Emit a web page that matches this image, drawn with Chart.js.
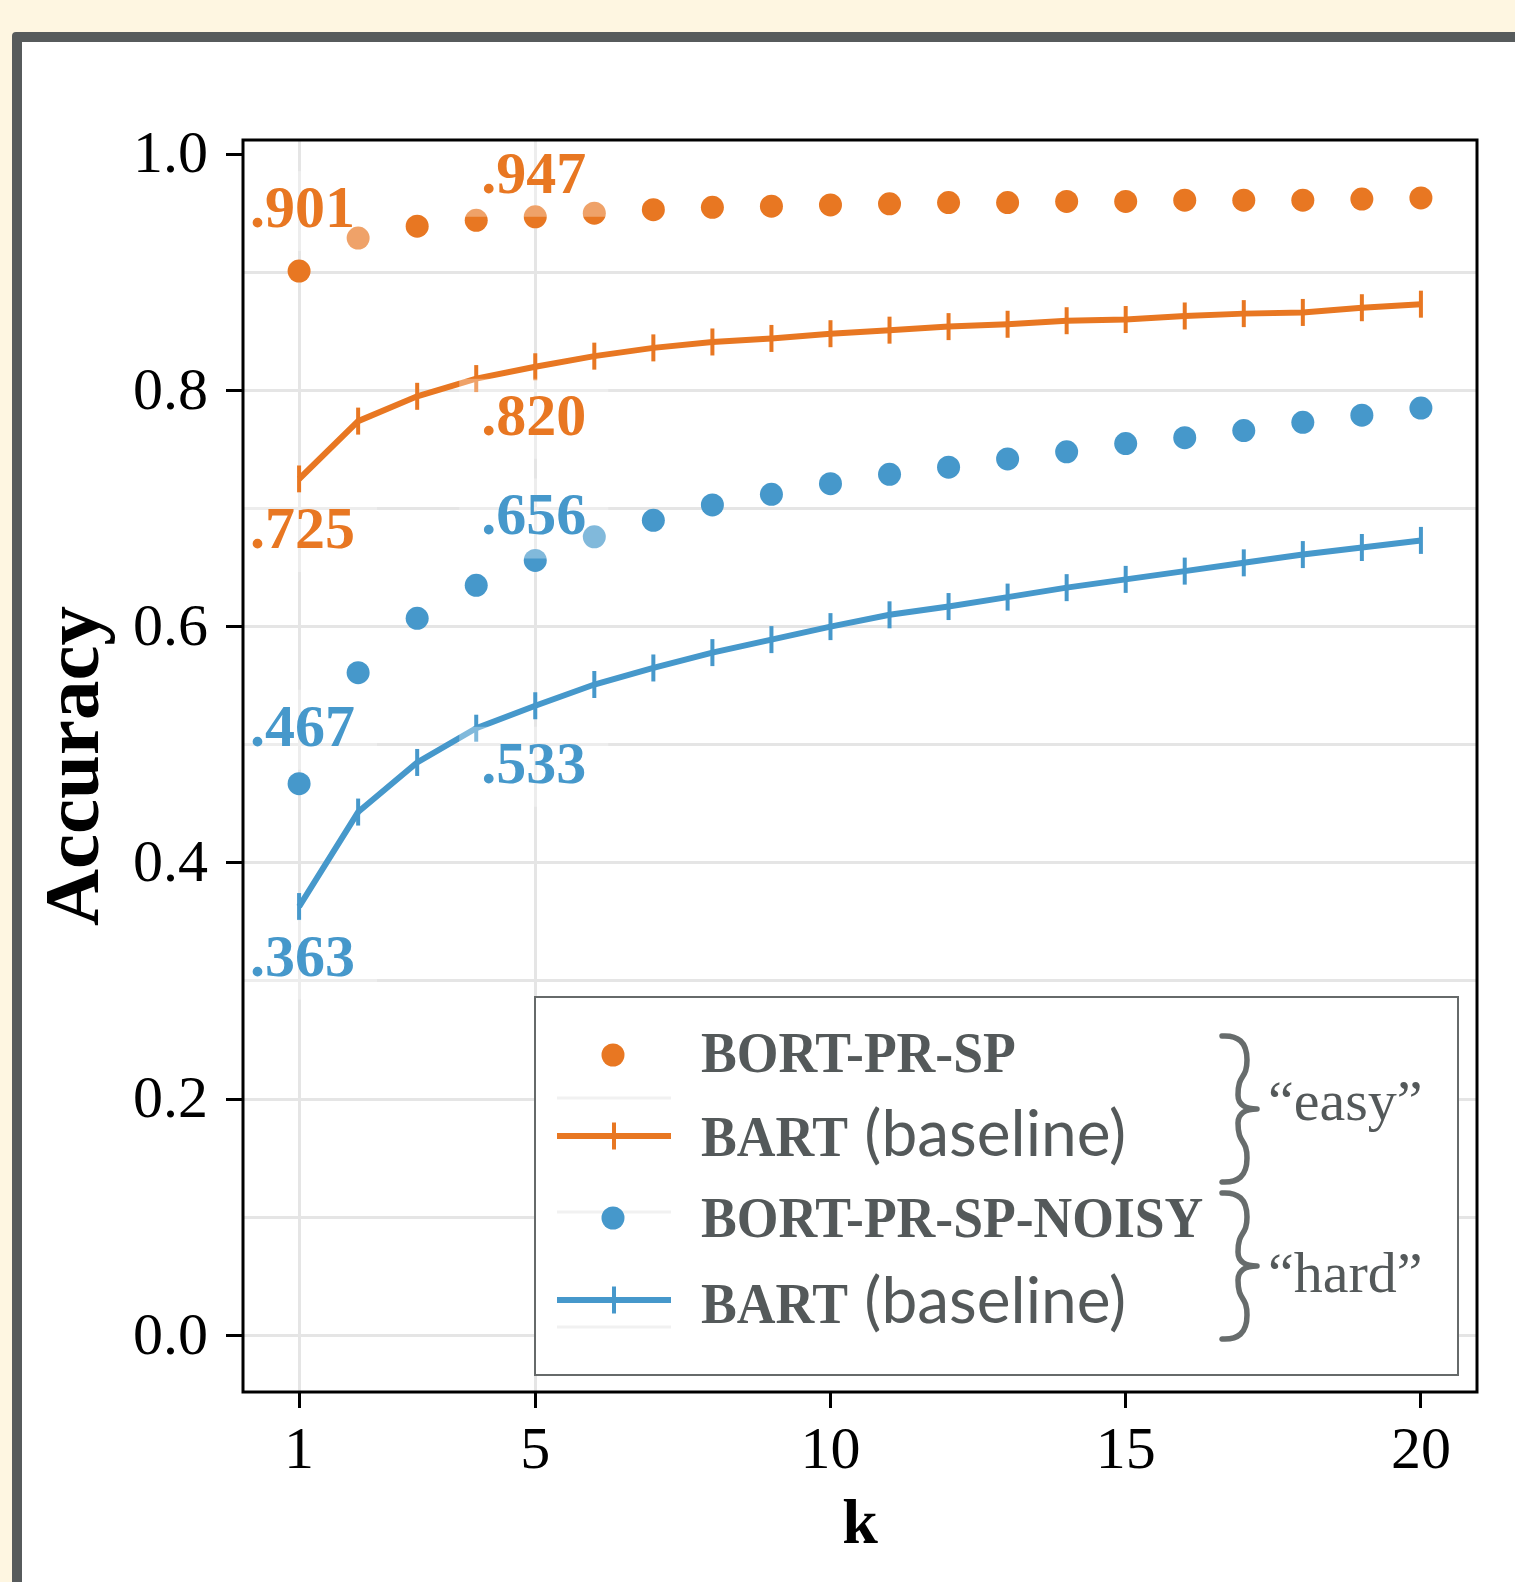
<!DOCTYPE html>
<html>
<head>
<meta charset="utf-8">
<script src="https://cdn.jsdelivr.net/npm/chart.js@4.4.1/dist/chart.umd.min.js"></script>
<style>
  html, body { margin: 0; padding: 0; }
  body { width: 1515px; height: 1582px; background: #fef6e1; position: relative; overflow: hidden; }
  #frame { position: absolute; left: 12px; top: 32px; width: 1540px; height: 1600px;
           border: 10px solid #575b5c; border-radius: 4px; background: #fff; }
  #chart { position: absolute; left: 0; top: 0; }
</style>
</head>
<body>
<div id="frame"></div>
<canvas id="chart" width="1515" height="1582"></canvas>
<script>
// k = 1..20
const kValues = [1, 2, 3, 4, 5, 6, 7, 8, 9, 10, 11, 12, 13, 14, 15, 16, 17, 18, 19, 20];

// "easy"
const bortEasy = [0.901, 0.929, 0.939, 0.944, 0.947, 0.950, 0.953, 0.955, 0.956, 0.957,
                  0.958, 0.959, 0.959, 0.960, 0.960, 0.961, 0.961, 0.961, 0.962, 0.963];
const bartEasy = [0.725, 0.774, 0.795, 0.810, 0.820, 0.829, 0.836, 0.841, 0.844, 0.848,
                  0.851, 0.854, 0.856, 0.859, 0.860, 0.863, 0.865, 0.866, 0.870, 0.873];
// "hard"
const bortHard = [0.467, 0.561, 0.607, 0.635, 0.656, 0.676, 0.690, 0.703, 0.712, 0.721,
                  0.729, 0.735, 0.742, 0.748, 0.755, 0.760, 0.766, 0.773, 0.779, 0.785];
const bartHard = [0.363, 0.443, 0.485, 0.514, 0.533, 0.551, 0.565, 0.578, 0.589, 0.600,
                  0.610, 0.617, 0.625, 0.633, 0.640, 0.647, 0.654, 0.661, 0.667, 0.673];

const xTicks = [1, 5, 10, 15, 20];
const xGridAt = [1, 5];
const yTicks = [0.0, 0.2, 0.4, 0.6, 0.8, 1.0];
const yMinor = [0.1, 0.3, 0.5, 0.7, 0.9];

const ORANGE = "#e87722";
const BLUE = "#4698cb";
const GREY_TXT = "#54595a";
const SERIF = "'Liberation Serif', serif";

const toPts = arr => arr.map((v, i) => ({ x: kValues[i], y: v }));

// etiquetas .901 etc: dataset, indice, desplazamiento en px
const annotations = [
    { ds: 0, idx: 0, dx: -49, dy: -44 },
    { ds: 0, idx: 4, dx: -54, dy: -24 },
    { ds: 1, idx: 0, dx: -49, dy: 69 },
    { ds: 1, idx: 4, dx: -54, dy: 68 },
    { ds: 2, idx: 0, dx: -49, dy: -38 },
    { ds: 2, idx: 4, dx: -54, dy: -26 },
    { ds: 3, idx: 0, dx: -49, dy: 69 },
    { ds: 3, idx: 4, dx: -54, dy: 77 }
];

const isIn = (list, v) => list.some(t => Math.abs(t - v) < 1e-6);

// Marco del area de trazado
const frameBox = {
    id: "frameBox",
    afterDraw(chart) {
        const { ctx, chartArea: a } = chart;
        ctx.save();
        ctx.strokeStyle = "#000";
        ctx.lineWidth = 3;
        ctx.strokeRect(a.left, a.top, a.right - a.left, a.bottom - a.top);
        ctx.restore();
    }
};

// Etiquetas de valores con caja blanca semitransparente
const valueLabels = {
    id: "valueLabels",
    afterDatasetsDraw(chart) {
        const ctx = chart.ctx;
        ctx.save();
        ctx.font = "bold 60px " + SERIF;
        ctx.textBaseline = "alphabetic";
        annotations.forEach(a => {
            const ds = chart.data.datasets[a.ds];
            const pt = chart.getDatasetMeta(a.ds).data[a.idx];
            const text = ds.data[a.idx].y.toFixed(3).replace(/^0/, "");
            const x = pt.x + a.dx, y = pt.y + a.dy;
            const w = ctx.measureText(text).width;
            ctx.fillStyle = "rgba(255,255,255,0.32)";
            ctx.fillRect(x - 22, y - 56, w + 44, 80);
            ctx.fillStyle = ds.borderColor;
            ctx.fillText(text, x, y);
        });
        ctx.restore();
    }
};

// Leyenda dibujada a mano (fuentes mezcladas y llaves)
const legendLabels = [["BORT-PR-SP", ""], ["BART", " (baseline)"],
                      ["BORT-PR-SP-NOISY", ""], ["BART", " (baseline)"]];
const groupLabels = ["\u201ceasy\u201d", "\u201chard\u201d"];

function drawBrace(ctx, yT, yB) {
    const x0 = 1222, xa = 1247, xb = 1238, x2 = 1257;
    const yM = (yT + yB) / 2;
    ctx.beginPath();
    ctx.moveTo(x0, yT);
    ctx.bezierCurveTo(x0 + 16, yT - 1, xa, yT + 6, xa, yT + 24);
    ctx.bezierCurveTo(xa, yT + 44, xb, yM - 36, xb, yM - 14);
    ctx.bezierCurveTo(xb, yM - 4, xb + 8, yM, x2, yM);
    ctx.bezierCurveTo(xb + 8, yM, xb, yM + 4, xb, yM + 14);
    ctx.bezierCurveTo(xb, yM + 36, xa, yB - 44, xa, yB - 24);
    ctx.bezierCurveTo(xa, yB - 6, x0 + 16, yB + 1, x0, yB);
    ctx.stroke();
}

const customLegend = {
    id: "customLegend",
    afterDraw(chart) {
        const ctx = chart.ctx;
        ctx.save();
        ctx.fillStyle = "#fff";
        ctx.fillRect(535, 997, 923, 378);
        ctx.strokeStyle = "#666a6a";
        ctx.lineWidth = 2;
        ctx.strokeRect(535, 997, 923, 378);

        ctx.strokeStyle = "#f1f1f1";
        ctx.lineWidth = 3;
        [1098, 1212, 1327].forEach(y => {
            ctx.beginPath(); ctx.moveTo(557, y); ctx.lineTo(671, y); ctx.stroke();
        });

        const rowsHandle = [1055, 1136, 1218, 1300];
        const rowsText = [1072, 1156, 1237, 1323];
        chart.data.datasets.forEach((ds, i) => {
            const cy = rowsHandle[i];
            if (ds.showLine === false) {
                ctx.fillStyle = ds.pointBackgroundColor;
                ctx.beginPath(); ctx.arc(613, cy, 11.5, 0, Math.PI * 2); ctx.fill();
            } else {
                ctx.strokeStyle = ds.borderColor;
                ctx.lineWidth = ds.borderWidth;
                ctx.beginPath(); ctx.moveTo(557, cy); ctx.lineTo(671, cy); ctx.stroke();
                ctx.lineWidth = ds.pointBorderWidth;
                ctx.beginPath(); ctx.moveTo(614, cy - 13.5); ctx.lineTo(614, cy + 13.5); ctx.stroke();
            }
            const [bold, rest] = legendLabels[i];
            ctx.fillStyle = GREY_TXT;
            ctx.textBaseline = "alphabetic";
            ctx.save();
            ctx.translate(701, rowsText[i]);
            ctx.scale(0.94, 1);
            ctx.font = "bold 57px " + SERIF;
            ctx.fillText(bold, 0, 0);
            const bw = ctx.measureText(bold).width * 0.94;
            ctx.restore();
            if (rest) {
                ctx.font = "64px Lato";
                ctx.fillText(rest, 701 + bw, rowsText[i]);
            }
        });

        ctx.strokeStyle = "#676c6c";
        ctx.lineWidth = 5.5;
        ctx.lineCap = "round";
        ctx.lineJoin = "round";
        drawBrace(ctx, 1036, 1182);
        drawBrace(ctx, 1193, 1339);

        ctx.fillStyle = GREY_TXT;
        ctx.font = "58px " + SERIF;
        ctx.fillText(groupLabels[0], 1268, 1120);
        ctx.fillText(groupLabels[1], 1268, 1292);
        ctx.restore();
    }
};

const ctx = document.getElementById("chart").getContext("2d");
new Chart(ctx, {
    type: "line",
    data: {
        datasets: [
            { label: "BORT-PR-SP", data: toPts(bortEasy), showLine: false,
              borderColor: ORANGE, pointBackgroundColor: ORANGE, pointBorderWidth: 0,
              pointRadius: 11.5, pointStyle: "circle" },
            { label: "BART (baseline)", data: toPts(bartEasy), borderColor: ORANGE, borderWidth: 6,
              pointStyle: "line", rotation: 90, pointRadius: 13.5, pointBorderWidth: 4,
              pointBorderColor: ORANGE, tension: 0 },
            { label: "BORT-PR-SP-NOISY", data: toPts(bortHard), showLine: false,
              borderColor: BLUE, pointBackgroundColor: BLUE, pointBorderWidth: 0,
              pointRadius: 11.5, pointStyle: "circle" },
            { label: "BART (baseline)", data: toPts(bartHard), borderColor: BLUE, borderWidth: 6,
              pointStyle: "line", rotation: 90, pointRadius: 13.5, pointBorderWidth: 4,
              pointBorderColor: BLUE, tension: 0 }
        ]
    },
    options: {
        responsive: false,
        animation: false,
        events: [],
        devicePixelRatio: 1,
        layout: { padding: { top: 140, right: 38, left: 0, bottom: 0 } },
        plugins: { legend: { display: false }, tooltip: { enabled: false } },
        scales: {
            x: {
                type: "linear", min: 0.05, max: 20.95,
                afterBuildTicks: s => { s.ticks = xTicks.map(v => ({ value: v })); },
                afterFit: s => { s.height = 190; },
                border: { display: false },
                grid: {
                    color: c => (c.tick && isIn(xGridAt, c.tick.value)) ? "#e5e5e5" : "rgba(0,0,0,0)",
                    lineWidth: 3, tickColor: "#000", tickWidth: 3, tickLength: 16
                },
                ticks: { autoSkip: false, maxRotation: 0, padding: 8, color: "#000",
                         font: { family: SERIF, size: 60 }, callback: v => String(v) },
                title: { display: true, text: "k", color: "#000",
                         font: { family: SERIF, size: 64, weight: "bold" }, padding: { top: 0, bottom: 17 } }
            },
            y: {
                min: -0.048, max: 1.012,
                afterBuildTicks: s => {
                    s.ticks = yTicks.concat(yMinor).sort((a, b) => a - b).map(v => ({ value: v }));
                },
                afterFit: s => { s.width = 243; },
                border: { display: false },
                grid: {
                    color: c => (c.tick && c.tick.value < 0.95) ? "#e5e5e5" : "rgba(0,0,0,0)",
                    lineWidth: 3,
                    tickColor: c => (c.tick && isIn(yTicks, c.tick.value)) ? "#000" : "rgba(0,0,0,0)",
                    tickWidth: 3, tickLength: 17
                },
                ticks: { autoSkip: false, padding: 18, labelOffset: 2.5, color: "#000",
                         font: { family: SERIF, size: 60 },
                         callback: v => isIn(yTicks, v) ? v.toFixed(1) : "" },
                title: { display: true, text: "Accuracy", color: "#000",
                         font: { family: SERIF, size: 79, weight: "bold" }, padding: { top: 30, bottom: 0 } }
            }
        }
    },
    plugins: [valueLabels, frameBox, customLegend]
});
</script>
</body>
</html>
